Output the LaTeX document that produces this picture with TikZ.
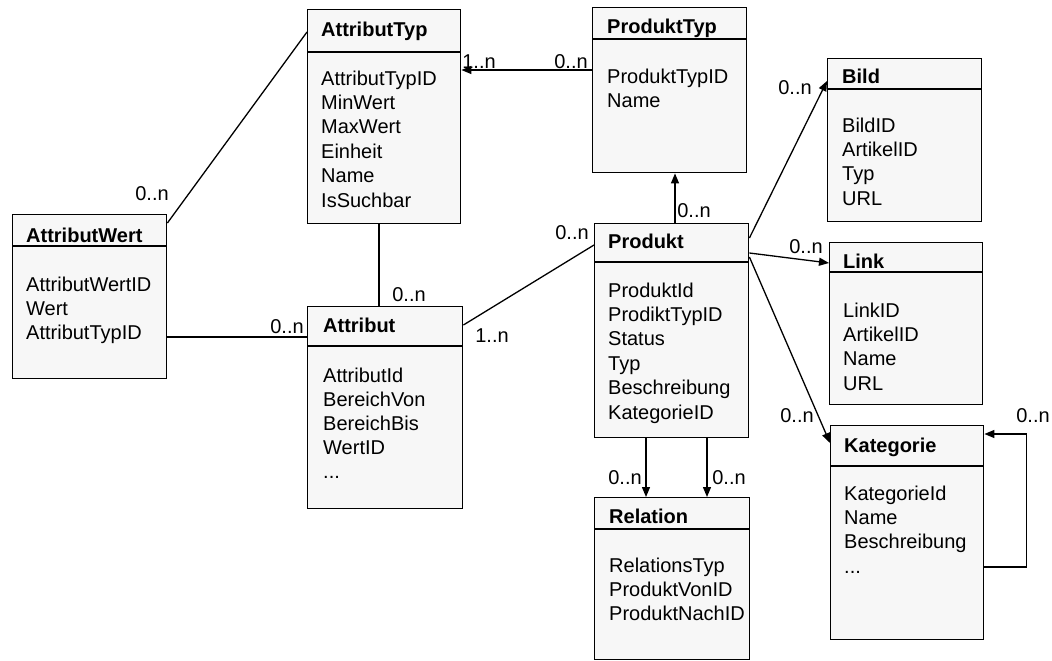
\documentclass[tikz,border=0pt]{standalone}
\usepackage{fontspec}
\setmainfont{Liberation Sans}
\usetikzlibrary{arrows.meta,calc}
\begin{document}
\begin{tikzpicture}[x=1pt,y=-1pt,
  box/.style={draw, line width=1.4pt, fill=black!3, rectangle, inner sep=0pt, anchor=north west},
  sepline/.style={line width=1.4pt},
  fld/.style={anchor=base west, inner sep=0pt, font=\fontsize{20}{24}\selectfont},
  hdr/.style={anchor=base west, inner sep=0pt, font=\fontsize{20}{24}\selectfont\bfseries},
  lbl/.style={inner sep=0pt, font=\fontsize{20}{24}\selectfont},
  conn/.style={line width=1.3pt},
  arr/.style={line width=1.3pt, -{Triangle[length=10pt,width=8pt]}}]
\useasboundingbox (0,0) rectangle (1052,661);

% ---------- boxes ----------
\node[box, minimum width=154pt, minimum height=164pt] (awert) at (12,214) {};
\node[box, minimum width=153pt, minimum height=214pt] (atyp) at (307,9) {};
\node[box, minimum width=155pt, minimum height=202pt] (attr) at (307,306) {};
\node[box, minimum width=154pt, minimum height=165pt] (ptyp) at (592,7) {};
\node[box, minimum width=154pt, minimum height=214pt] (prod) at (594,223) {};
\node[box, minimum width=155pt, minimum height=162pt] (rel) at (594,497) {};
\node[box, minimum width=154pt, minimum height=163pt] (bild) at (827,58) {};
\node[box, minimum width=153pt, minimum height=162pt] (link) at (829,242) {};
\node[box, minimum width=153pt, minimum height=214pt] (kat) at (830,425) {};

% ---------- header separators ----------
\draw[sepline] (awert.west |- 0,246) -- (awert.east |- 0,246);
\draw[sepline] (atyp.west |- 0,52) -- (atyp.east |- 0,52);
\draw[sepline] (attr.west |- 0,346) -- (attr.east |- 0,346);
\draw[sepline] (ptyp.west |- 0,39) -- (ptyp.east |- 0,39);
\draw[sepline] (prod.west |- 0,262) -- (prod.east |- 0,262);
\draw[sepline] (rel.west |- 0,529) -- (rel.east |- 0,529);
\draw[sepline] (bild.west |- 0,89) -- (bild.east |- 0,89);
\draw[sepline] (link.west |- 0,272) -- (link.east |- 0,272);
\draw[sepline] (kat.west |- 0,466) -- (kat.east |- 0,466);

% ---------- texts ----------
\node[hdr] (awert-h) at (26,242) {AttributWert};
\foreach \t [count=\i] in {AttributWertID,Wert,AttributTypID}
  \node[fld] (awert-\i) at (26,{291+(\i-1)*24.4}) {\t};

\node[hdr] (atyp-h) at (321,37) {AttributTyp};
\foreach \t [count=\i] in {AttributTypID,MinWert,MaxWert,Einheit,Name,IsSuchbar}
  \node[fld] (atyp-\i) at (321,{85+(\i-1)*24.4}) {\t};

\node[hdr] (attr-h) at (323,332) {Attribut};
\foreach \t [count=\i] in {AttributId,BereichVon,BereichBis,WertID}
  \node[fld] (attr-\i) at (323,{382+(\i-1)*24.2}) {\t};
\node[fld] (attr-5) at (323,478) {...};

\node[hdr] (ptyp-h) at (607,34) {ProduktTyp};
\foreach \t [count=\i] in {ProduktTypID,Name}
  \node[fld] (ptyp-\i) at (607,{83+(\i-1)*24.4}) {\t};

\node[hdr] (prod-h) at (608,248) {Produkt};
\foreach \t [count=\i] in {ProduktId,ProdiktTypID,Status,Typ,Beschreibung,KategorieID}
  \node[fld] (prod-\i) at (608,{297+(\i-1)*24.4}) {\t};

\node[hdr] (rel-h) at (609,523) {Relation};
\foreach \t [count=\i] in {RelationsTyp,ProduktVonID,ProduktNachID}
  \node[fld] (rel-\i) at (609,{572+(\i-1)*24.4}) {\t};

\node[hdr] (bild-h) at (842,84) {Bild};
\foreach \t [count=\i] in {BildID,ArtikelID,Typ,URL}
  \node[fld] (bild-\i) at (842,{132+(\i-1)*24.4}) {\t};

\node[hdr] (link-h) at (843,268) {Link};
\foreach \t [count=\i] in {LinkID,ArtikelID,Name,URL}
  \node[fld] (link-\i) at (843,{317+(\i-1)*24.4}) {\t};

\node[hdr] (kat-h) at (844,452) {Kategorie};
\foreach \t [count=\i] in {KategorieId,Name,Beschreibung}
  \node[fld] (kat-\i) at (844,{500+(\i-1)*24.4}) {\t};
\node[fld] (kat-4) at (844,573) {...};

% ---------- connectors ----------
\draw[conn] ($(awert.north east)+(0,9)$) -- ($(atyp.north west)+(0,23)$);
\draw[arr] (ptyp.west |- 0,70) -- (atyp.east |- 0,70);
\draw[conn] (atyp.south -| 379,0) -- (attr.north -| 379,0);
\draw[conn] (awert.east |- 0,337) -- (attr.west |- 0,337);
\draw[conn] ($(attr.north east)+(0,19)$) -- ($(prod.north west)+(0,22)$);
\draw[arr] (prod.north -| 675,0) -- (ptyp.south -| 675,0);
\draw[arr] ($(prod.north east)+(0,15)$) -- ($(bild.north west)+(0,23)$);
\draw[arr] ($(prod.north east)+(0,30)$) -- (link.west |- 0,263);
\draw[arr] ($(prod.north east)+(0,34)$) -- (kat.west |- 0,443);
\draw[arr] (prod.south -| 646,0) -- (rel.north -| 646,0);
\draw[arr] (prod.south -| 707,0) -- (rel.north -| 707,0);
\draw[arr] (kat.east |- 0,567) -- ++(42,0) |- (kat.east |- 0,434);

% ---------- multiplicities ----------
\node[lbl] (m1) at (152,194) {0..n};
\node[lbl] (m2) at (479,62) {1..n};
\node[lbl] (m3) at (571,62) {0..n};
\node[lbl] (m4) at (409,295) {0..n};
\node[lbl] (m5) at (287,327) {0..n};
\node[lbl] (m6) at (492,336) {1..n};
\node[lbl] (m7) at (572,233) {0..n};
\node[lbl] (m8) at (694,211) {0..n};
\node[lbl] (m9) at (795,88) {0..n};
\node[lbl] (m10) at (806,247) {0..n};
\node[lbl] (m11) at (797,416) {0..n};
\node[lbl] (m12) at (625,478) {0..n};
\node[lbl] (m13) at (729,478) {0..n};
\node[lbl] (m14) at (1033,416) {0..n};
\end{tikzpicture}
\end{document}
